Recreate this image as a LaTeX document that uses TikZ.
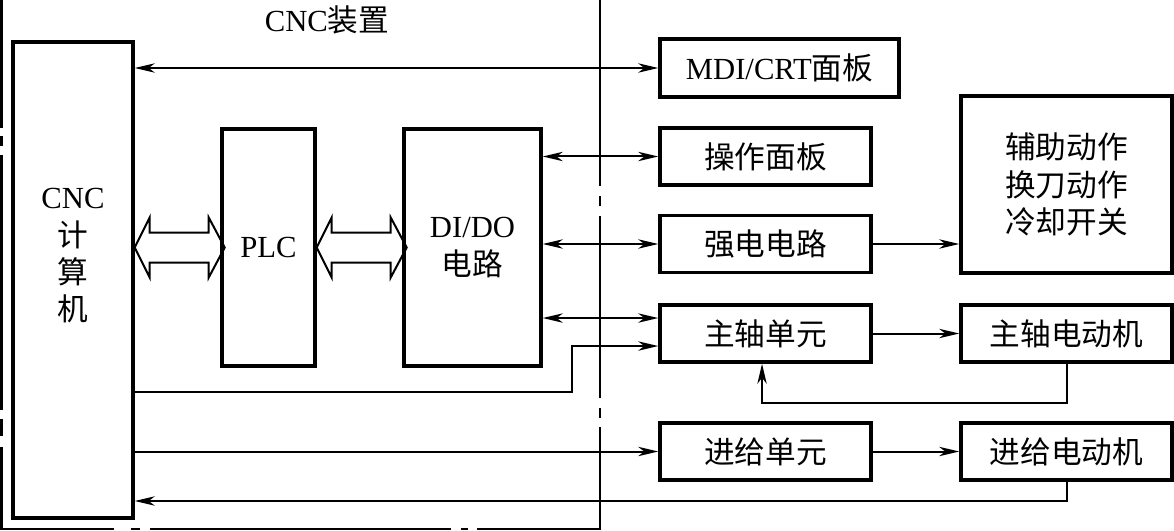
\documentclass[tikz,border=0pt]{standalone}
\usepackage{fontspec}
\setmainfont{Liberation Serif}
\newfontfamily\cjk{Noto Sans CJK SC}
\usetikzlibrary{arrows.meta,calc}
\begin{document}
\begin{tikzpicture}[x=0.75pt,y=-0.75pt,
  box/.style={draw,line width=2.6pt,inner sep=0pt,align=center,font=\fontsize{23}{28}\selectfont},
  sbox/.style={box,minimum width=158.25pt,minimum height=42.75pt},
  lbl/.style={inner sep=0pt,align=center,font=\fontsize{23}{28}\selectfont},
  tip/.tip={Stealth[length=15pt,width=7pt,inset=4.5pt]},
  conn/.style={line width=1.5pt,-tip},
  both/.style={line width=1.5pt,tip-tip},
  bus/.style={line width=1.5pt,line join=miter},
  border/.style={line width=2pt}]
\useasboundingbox (0,0) rectangle (1174,531);

% CNC device boundary (dash-dot)
\draw[border] (1.5,-5) -- (1.5,128) (1.5,136) -- (1.5,146) (1.5,155) -- (1.5,410)
  (1.5,419) -- (1.5,436) (1.5,447) -- (1.5,529) -- (114,529) (131,529) -- (140,529)
  (150,529) -- (451,529) (461,529) -- (468,529) (477,529) -- (600,529) -- (600,427)
  (600,418) -- (600,408) (600,398) -- (600,216) (600,206) -- (600,196) (600,186) -- (600,-5);
\node[lbl] (title) at (327,20) {CNC{\cjk 装置}};

% boxes
\node[box,minimum width=90pt,minimum height=357pt] (cnc) at (73,280) {};
\node[lbl] (cnct) at (73,256) {CNC\\{\cjk 计}\\{\cjk 算}\\{\cjk 机}};
\node[box,minimum width=69.75pt,minimum height=177.75pt] (plc) at (268.5,247.5) {PLC};
\node[box,minimum width=102.75pt,minimum height=177.75pt] (dido) at (472.5,247.5) {DI/DO\\{\cjk 电路}};
\node[box,minimum width=179.25pt,minimum height=43.5pt] (mdi) at (779.5,68) {MDI/CRT{\cjk 面板}};
\node[sbox] (czmb) at (765.5,156.5) {{\cjk 操作面板}};
\node[sbox] (qd) at (765.5,244) {{\cjk 强电电路}};
\node[box,minimum width=158.25pt,minimum height=132.75pt] (fz) at (1066.5,184.5) {{\cjk 辅助动作}\\{\cjk 换刀动作}\\{\cjk 冷却开关}};
\node[sbox] (zzdy) at (765.5,333.5) {{\cjk 主轴单元}};
\node[sbox] (zzdj) at (1066.5,333.5) {{\cjk 主轴电动机}};
\node[sbox] (jjdy) at (765.5,451.5) {{\cjk 进给单元}};
\node[sbox] (jjdj) at (1066.5,451.5) {{\cjk 进给电动机}};

% hollow bus arrows
\draw[bus] (cnc.east |- plc.center) -- ++(15,-30) -- ++(0,15) -- ++(59,0) -- ++(0,-15) -- ++(16,30)
  -- ++(-16,30) -- ++(0,-15) -- ++(-59,0) -- ++(0,15) -- cycle;
\draw[bus] (plc.east |- plc.center) -- ++(15,-30) -- ++(0,15) -- ++(59,0) -- ++(0,-15) -- ++(16,30)
  -- ++(-16,30) -- ++(0,-15) -- ++(-59,0) -- ++(0,15) -- cycle;

% connectors
\coordinate (zz1) at ([yshift=11.6pt]zzdy.west);
\coordinate (zz2) at ([yshift=-9.4pt]zzdy.west);
\coordinate (k1) at (572,392);
\coordinate (f1) at (0,403);
\coordinate (f2) at (0,501);
\draw[both] (cnc.east |- mdi.west) -- (mdi.west);
\draw[both] (dido.east |- czmb.west) -- (czmb.west);
\draw[both] (dido.east |- qd.west) -- (qd.west);
\draw[both] (dido.east |- zz1) -- (zz1);
\draw[conn] (cnc.east |- k1) -- (k1) |- (zz2);
\draw[conn] (cnc.east |- jjdy.west) -- (jjdy.west);
\draw[conn] (qd.east) -- (qd.east -| fz.west);
\draw[conn] (zzdy.east) -- (zzdj.west);
\draw[conn] (jjdy.east) -- (jjdj.west);
\draw[conn] (zzdj.south) -- (zzdj.south |- f1) -| ([xshift=-2.6pt]zzdy.south);
\draw[conn] (jjdj.south) |- (cnc.east |- f2);
\end{tikzpicture}
\end{document}
